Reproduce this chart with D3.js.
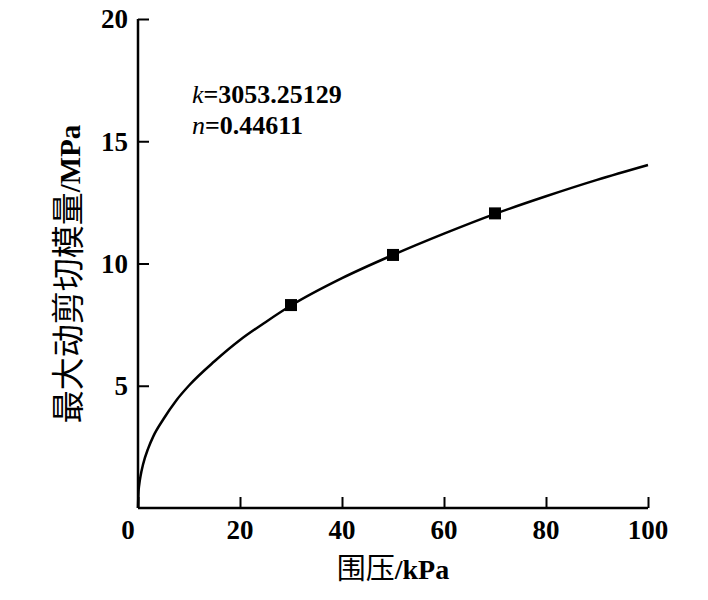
<!doctype html>
<html>
<head>
    <meta charset="utf-8"/>
    <style>
        html, body {
            margin: 0;
            padding: 0;
            background: #fff;
        }
        svg text {
            font-family: "Liberation Serif", "Times New Roman", serif;
            font-weight: bold;
            fill: #000;
        }
        .cjk {
            font-family: "Noto Sans CJK SC", serif;
            font-weight: normal;
        }
    </style>
    <script src="https://d3js.org/d3.v7.min.js"></script>
</head>
<body>
<svg width="708" height="600"></svg>
<script>
    // fitted curve, values
    var curveX = [0, 0.1, 0.25, 0.5, 1, 2, 3, 5, 7.5, 10, 15, 20, 25, 30, 40, 50, 60, 70, 80, 90, 100];
    var curveY = [0, 0.65, 0.97, 1.31, 1.79, 2.44, 2.93, 3.64, 4.4, 5.01, 6.0, 6.87, 7.6, 8.28, 9.4, 10.35, 11.22, 12.03, 12.75, 13.42, 14.03];

    // measured points
    var pointX = [30, 50, 70];
    var pointY = [8.3, 10.35, 12.05];

    var xTicks = [0, 20, 40, 60, 80, 100];
    var yTicks = [5, 10, 15, 20];

    var svg = d3.select("svg");
    var x = d3.scaleLinear().domain([0, 100]).range([138, 648]);
    var y = d3.scaleLinear().domain([0, 20]).range([508, 19]);

    // x axis, ticks pointing inward
    var xAxis = svg.append("g")
        .attr("transform", "translate(0," + y(0) + ")")
        .call(d3.axisTop(x).tickValues(xTicks).tickSize(11).tickSizeOuter(0).tickFormat(""));
    xAxis.select(".domain").attr("stroke-width", 2.5).attr("d", "M" + x(0) + ",0H" + x(100));
    xAxis.selectAll(".tick line").attr("stroke-width", 2);

    svg.append("g").selectAll("text")
        .data(xTicks).enter()
        .append("text")
        .attr("x", function(d) { return x(d) + (d === 0 ? -10 : 0); })
        .attr("y", 539)
        .attr("text-anchor", "middle")
        .style("font-size", "27px")
        .text(function(d) { return d; });

    // y axis
    var yAxis = svg.append("g")
        .attr("transform", "translate(" + x(0) + ",0)")
        .call(d3.axisRight(y).tickValues(yTicks).tickSize(11).tickSizeOuter(0).tickFormat(""));
    yAxis.select(".domain").attr("stroke-width", 2.5).attr("d", "M0," + y(0) + "V" + y(20));
    yAxis.selectAll(".tick line").attr("stroke-width", 2);

    svg.append("g").selectAll("text")
        .data(yTicks).enter()
        .append("text")
        .attr("x", 128)
        .attr("y", function(d) { return y(d); })
        .attr("dy", "0.35em")
        .attr("text-anchor", "end")
        .style("font-size", "27px")
        .text(function(d) { return d; });

    // axis titles
    var xt = svg.append("text")
        .attr("x", 393)
        .attr("y", 579)
        .attr("text-anchor", "middle")
        .style("font-size", "28px");
    xt.append("tspan").attr("class", "cjk").style("font-size", "29px").text("围压");
    xt.append("tspan").text("/kPa");

    var yt = svg.append("text")
        .attr("transform", "translate(80,274) rotate(-90)")
        .attr("text-anchor", "middle")
        .style("font-size", "29px");
    yt.append("tspan").attr("class", "cjk").style("font-size", "33px").text("最大动剪切模量");
    yt.append("tspan").text("/MPa");

    // fit parameters
    var note = svg.append("g").style("font-size", "26px");
    var t1 = note.append("text").attr("x", 192).attr("y", 103);
    t1.append("tspan").style("font-style", "italic").style("font-weight", "normal").text("k");
    t1.append("tspan").text("=3053.25129");
    var t2 = note.append("text").attr("x", 192).attr("y", 134);
    t2.append("tspan").style("font-style", "italic").style("font-weight", "normal").text("n");
    t2.append("tspan").text("=0.44611");

    // curve
    var line = d3.line()
        .x(function(d, i) { return x(curveX[i]); })
        .y(function(d) { return y(d); })
        .curve(d3.curveMonotoneX);
    svg.append("path")
        .datum(curveY)
        .attr("d", line)
        .attr("fill", "none")
        .attr("stroke", "#000")
        .attr("stroke-width", 2.5);

    // markers
    svg.append("g").selectAll("rect")
        .data(pointY).enter()
        .append("rect")
        .attr("x", function(d, i) { return x(pointX[i]) - 6; })
        .attr("y", function(d) { return y(d) - 6; })
        .attr("width", 12)
        .attr("height", 12)
        .attr("fill", "#000");
</script>
</body>
</html>
